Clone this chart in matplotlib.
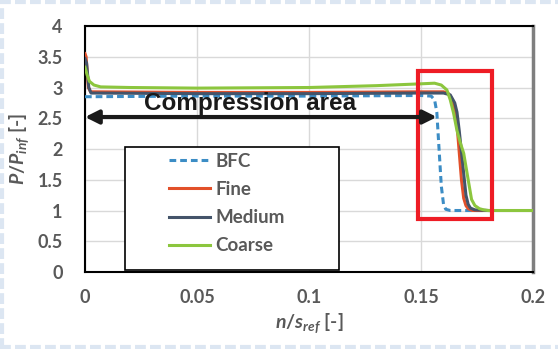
import matplotlib.pyplot as plt
from matplotlib.lines import Line2D
from matplotlib.patches import Rectangle

plt.rcParams['font.family'] = ['Lato', 'DejaVu Sans']
plt.rcParams['font.weight'] = 'bold'
plt.rcParams['mathtext.fontset'] = 'custom'
plt.rcParams['mathtext.rm'] = 'Lato:bold'
plt.rcParams['mathtext.it'] = 'Lato:bold:italic'

# data
bfc_x = [0, 0.05, 0.1, 0.15, 0.1545, 0.156, 0.157, 0.158, 0.159, 0.160, 0.161, 0.163, 0.178]
bfc_y = [2.85, 2.86, 2.86, 2.87, 2.86, 2.8, 2.6, 2.0, 1.4, 1.1, 1.02, 1.0, 1.0]

fine_x = [0, 0.0005, 0.0015, 0.0025, 0.05, 0.1, 0.15, 0.160, 0.162, 0.164, 0.165, 0.166,
          0.167, 0.168, 0.169, 0.170, 0.171, 0.173, 0.18]
fine_y = [3.55, 3.5, 3.0, 2.93, 2.92, 2.92, 2.93, 2.93, 2.91, 2.8, 2.65, 2.4,
          1.95, 1.5, 1.2, 1.08, 1.03, 1.0, 1.0]

med_x = [0, 0.0007, 0.0017, 0.0027, 0.05, 0.1, 0.15, 0.160, 0.163, 0.165, 0.166, 0.167,
         0.168, 0.169, 0.170, 0.171, 0.172, 0.174, 0.18]
med_y = [3.47, 3.4, 3.0, 2.91, 2.9, 2.9, 2.91, 2.91, 2.88, 2.75, 2.6, 2.3,
         1.95, 1.6, 1.25, 1.1, 1.04, 1.01, 1.0]

coarse_x = [0, 0.001, 0.002, 0.004, 0.007, 0.02, 0.05, 0.1, 0.13, 0.15, 0.156, 0.159,
            0.1615, 0.163, 0.1645, 0.166, 0.1675, 0.169, 0.171, 0.1725, 0.174, 0.176,
            0.178, 0.18, 0.2]
coarse_y = [3.33, 3.2, 3.1, 3.04, 3.01, 3.0, 2.99, 3.0, 3.03, 3.06, 3.07, 3.04,
            2.96, 2.8, 2.58, 2.3, 2.1, 1.93, 1.5, 1.18, 1.08, 1.03,
            1.01, 1.0, 1.0]

labels = ['BFC', 'Fine', 'Medium', 'Coarse']
colors = ['#3c8dc5', '#e2502a', '#44546a', '#8cc63e']

grey = '#595959'

fig = plt.figure(figsize=(5.58, 3.49), dpi=100)
ax = fig.add_axes([0.1523, 0.2206, 0.8032, 0.7049])

# light blue dashed page border
for xs, ys in [([0, 1], [0.994, 0.994]), ([0.004, 0.004], [0, 1]), ([0, 1], [0.006, 0.006])]:
    fig.add_artist(Line2D(xs, ys, transform=fig.transFigure, color='#dce6f2',
                          lw=3, dashes=(2.6, 1)))

ax.plot(bfc_x, bfc_y, color=colors[0], lw=2.2, ls=(0, (2.2, 1.3)), zorder=3)
ax.plot(fine_x, fine_y, color=colors[1], lw=2.2, zorder=3)
ax.plot(med_x, med_y, color=colors[2], lw=2.2, zorder=3)
ax.plot(coarse_x, coarse_y, color=colors[3], lw=2.2, zorder=3)

ax.set_xlim(0, 0.2)
ax.set_ylim(0, 4)
ax.set_xticks([0, 0.05, 0.1, 0.15, 0.2])
ax.set_xticklabels(['0', '0.05', '0.1', '0.15', '0.2'])
ax.set_yticks([0, 0.5, 1, 1.5, 2, 2.5, 3, 3.5, 4])
ax.set_yticklabels(['0', '0.5', '1', '1.5', '2', '2.5', '3', '3.5', '4'])
ax.tick_params(length=0, labelsize=13, labelcolor=grey)
ax.tick_params(axis='y', pad=16)
ax.tick_params(axis='x', pad=12)
ax.grid(True, color='#d9d9d9', lw=1)
ax.set_axisbelow(True)
for s in ['left', 'top', 'bottom']:
    ax.spines[s].set_color('black')
    ax.spines[s].set_linewidth(1.5)
ax.spines['right'].set_color('#7f7f7f')
ax.spines['right'].set_linewidth(2.5)

ax.set_ylabel(r'$P/P_{inf}$ [-]', fontsize=14, color=grey, fontweight='bold', labelpad=4)
ax.set_xlabel(r'$n/s_{ref}$ [-]', fontsize=14, color=grey, fontweight='bold', labelpad=4)

# compression area annotation
ax.annotate('', xy=(0, 2.52), xytext=(0.157, 2.52),
            arrowprops=dict(arrowstyle='<|-|>', lw=3, color='#1a1a1a',
                            mutation_scale=20, shrinkA=0, shrinkB=0), zorder=6)
ax.text(0.0737, 2.63, 'Compression area', fontsize=17.5, fontweight='bold',
        family='Liberation Sans', color='#1a1a1a', ha='center', va='baseline', zorder=6)

# red box around the shock
ax.add_patch(Rectangle((0.1487, 0.86), 0.033, 2.41, fill=False, ec='#ee1c25', lw=3, zorder=5))

# legend box
ax.add_patch(Rectangle((0.0178, 0.03), 0.0955, 2.01, fc='white', ec='black', lw=1.2, zorder=4))
handles = [Line2D([], [], color=colors[0], lw=2.2, ls=(0, (2.2, 1.3))),
           Line2D([], [], color=colors[1], lw=2.2),
           Line2D([], [], color=colors[2], lw=2.2),
           Line2D([], [], color=colors[3], lw=2.2)]
leg = ax.legend(handles, labels, loc='upper left', bbox_to_anchor=(0.17, 0.516),
                frameon=False, fontsize=13.5, handlelength=2.2, handletextpad=0.3,
                labelspacing=0.6, borderaxespad=0)
for t in leg.get_texts():
    t.set_color(grey)
leg.set_zorder(7)

fig.savefig('out.png', dpi=100)
